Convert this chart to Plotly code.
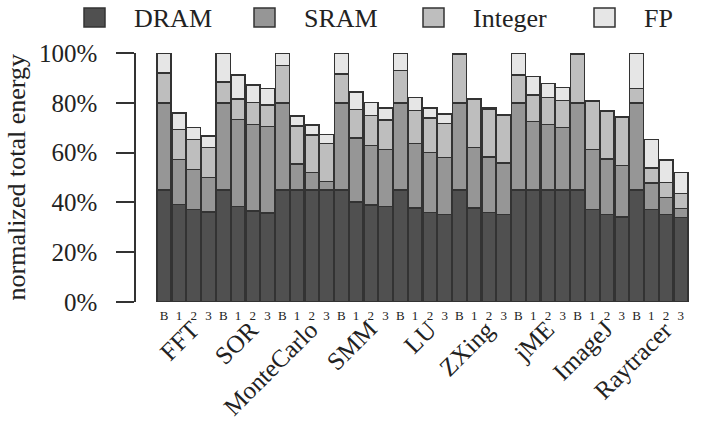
import plotly.graph_objects as go

benchmarks = ["FFT", "SOR", "MonteCarlo", "SMM", "LU", "ZXing", "jME", "ImageJ", "Raytracer"]
configs = ["B", "1", "2", "3"]
series_names = ["DRAM", "SRAM", "Integer", "FP"]

# segment values (%) per bar, ordered benchmark by benchmark, configs B,1,2,3
dram = [45, 39.1, 37.1, 36.1,
        45, 38.4, 36.5, 35.7,
        45, 45, 45, 45,
        45, 40.1, 38.9, 38.3,
        45, 37.7, 35.9, 35.2,
        45, 37.7, 36.0, 35.1,
        45, 45, 45, 45,
        45, 37.2, 35.2, 34.1,
        45, 37.1, 35.1, 33.9]
sram = [35, 18.2, 16.1, 14.0,
        35, 34.8, 34.7, 34.8,
        35, 10.5, 7.0, 3.4,
        35, 25.8, 24.0, 23.0,
        35, 25.9, 24.1, 22.9,
        35, 24.3, 22.3, 20.8,
        35, 27.4, 26.2, 25.1,
        35, 24.0, 22.3, 20.7,
        35, 10.6, 6.8, 3.6]
integer = [12, 11.9, 12.0, 12.0,
           8.3, 8.4, 8.9, 8.6,
           15, 15.2, 15.1, 15.2,
           11.5, 11.4, 12.0, 11.8,
           13, 13.3, 13.9, 13.5,
           19.6, 19.3, 19.2, 19.0,
           11.1, 10.8, 10.9, 10.8,
           19.7, 19.4, 19.0, 19.3,
           5.7, 6.2, 6.0, 6.0]
fp = [8, 6.7, 4.9, 4.6,
      11.7, 9.6, 7.1, 6.6,
      5, 4.1, 4.0, 3.7,
      8.5, 7.1, 5.2, 4.9,
      7, 5.2, 4.0, 3.9,
      0.4, 0.4, 0.4, 0.4,
      8.9, 7.3, 5.6, 5.2,
      0.3, 0.3, 0.3, 0.3,
      14.3, 11.4, 9.2, 8.5]

yticks = [0, 20, 40, 60, 80, 100]

# ---- style / layout ----
colors = ["#505050", "#969696", "#bebebe", "#e6e6e6"]
EDGE = "#333333"
TXT = "#222222"
FONT = "Liberation Serif"
W, H = 703, 443
L, R, T, B = 136, 13, 53, 141
PW, PH = W - L - R, H - T - B
n = len(benchmarks) * len(configs)
xs = list(range(n))
ticktext = [c for _ in benchmarks for c in configs]
slot = 14.76
x0px = 164.2


def paper_x(px):
    return (px - L) / PW


def paper_y(py):
    return (H - B - py) / PH


fig = go.Figure()
for name, vals, col in zip(series_names, [dram, sram, integer, fp], colors):
    fig.add_trace(go.Bar(
        x=xs, y=vals, name=name,
        marker=dict(color=col, line=dict(color=EDGE, width=1.5)),
    ))

annotations = []
shapes = []
# rotated benchmark labels, right end placed a bit right of the group centre
for g, name in enumerate(benchmarks):
    annotations.append(dict(
        x=g * len(configs) + 1.5 + 21 / slot, xref="x",
        y=paper_y(313), yref="paper",
        text=name, showarrow=False, textangle=-45,
        xanchor="right", yanchor="top",
        font=dict(family=FONT, size=25, color=TXT),
    ))
# y-axis title
annotations.append(dict(
    x=paper_x(16), xref="paper", y=0.5, yref="paper",
    text="normalized total energy", showarrow=False, textangle=-90,
    xanchor="center", yanchor="middle",
    font=dict(family=FONT, size=26, color=TXT),
))
# custom legend (larger swatches, as in the original)
legend_sq_px = [84, 254, 423, 594]
for name, col, sx in zip(series_names, colors, legend_sq_px):
    shapes.append(dict(
        type="rect", xref="paper", yref="paper",
        x0=paper_x(sx), x1=paper_x(sx + 21), y0=paper_y(8), y1=paper_y(27),
        fillcolor=col, line=dict(color=EDGE, width=1.5),
    ))
    annotations.append(dict(
        x=paper_x(sx + 48), xref="paper", y=paper_y(18), yref="paper",
        text=name, showarrow=False, xanchor="left", yanchor="middle",
        font=dict(family=FONT, size=26, color=TXT),
    ))

fig.update_layout(
    width=W, height=H,
    margin=dict(l=L, r=R, t=T, b=B, autoexpand=False),
    barmode="stack", bargap=0.05,
    plot_bgcolor="white", paper_bgcolor="white",
    font=dict(family=FONT, color=TXT),
    showlegend=False,
    annotations=annotations,
    shapes=shapes,
)
fig.update_xaxes(
    range=[(L - x0px) / slot, (W - R - x0px) / slot],
    tickvals=xs, ticktext=ticktext, tickangle=0,
    showgrid=False, zeroline=False, showline=False, ticks="",
    ticklabelstandoff=4,
    tickfont=dict(family=FONT, size=13, color=TXT),
)
fig.update_yaxes(
    range=[0, 100], tickvals=yticks, ticktext=[f"{v}%" for v in yticks],
    showgrid=False, zeroline=False, showline=True,
    linecolor=EDGE, linewidth=1.5, ticks="outside", ticklen=18,
    tickwidth=1.5, tickcolor=EDGE, ticklabelstandoff=14,
    tickfont=dict(family=FONT, size=25, color=TXT),
)

fig.write_html("out.html")
